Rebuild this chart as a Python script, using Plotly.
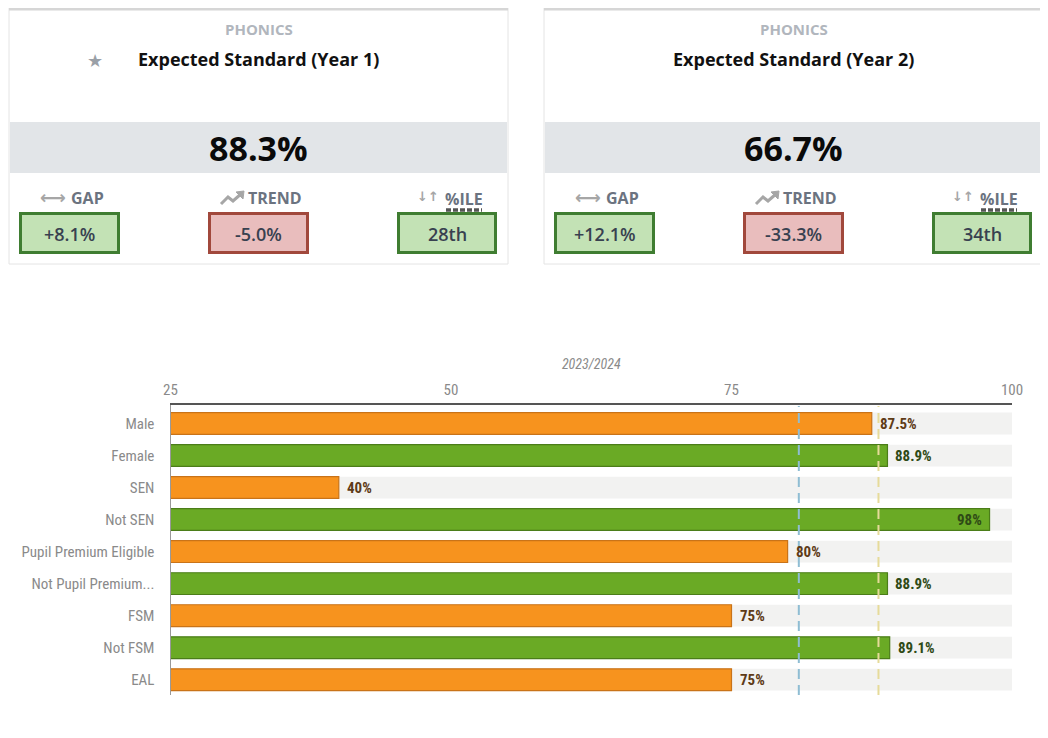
import plotly.graph_objects as go

# page window is 1048x738; body margin of 8px is taken into account
OFF = 8
W, H = 1048 - OFF, 738 - OFF

# ---------------- data ----------------
card_subjects = ["PHONICS", "PHONICS"]
card_titles = ["Expected Standard (Year 1)", "Expected Standard (Year 2)"]
card_values = ["88.3%", "66.7%"]
card_starred = [True, False]
gap_values = ["+8.1%", "+12.1%"]
trend_values = ["-5.0%", "-33.3%"]
pctile_values = ["28th", "34th"]
gap_status = ["good", "good"]
trend_status = ["bad", "bad"]
pctile_status = ["good", "good"]

categories = ["Male", "Female", "SEN", "Not SEN", "Pupil Premium Eligible",
              "Not Pupil Premium...", "FSM", "Not FSM", "EAL"]
values = [87.5, 88.9, 40, 98, 80, 88.9, 75, 89.1, 75]
above_school = [False, True, False, True, False, True, False, True, False]
national_line = 81.0
school_line = 88.1
axis_title = "2023/2024"
x_ticks = [25, 50, 75, 100]


def X(px):
    return (px - OFF) / W


def Y(py):
    return 1 - (py - OFF) / H


chart_font = "Liberation Sans Narrow, Roboto Condensed, DejaVu Sans Condensed, sans-serif"

fig = go.Figure()

# background bars
fig.add_trace(go.Bar(
    y=categories, x=[100] * len(categories), orientation="h",
    marker=dict(color="#f2f2f1", line=dict(width=0)),
    hoverinfo="skip", showlegend=False, width=0.68,
))

bar_colors = ["#6aaa25" if a else "#f7931e" for a in above_school]
bar_lines = ["#4b7d19" if a else "#c97318" for a in above_school]
text_colors = ["#2f4a16" if a else "#5e3b17" for a in above_school]

fig.add_trace(go.Bar(
    y=categories, x=values, orientation="h",
    marker=dict(color=bar_colors, line=dict(color=bar_lines, width=1.2)),
    showlegend=False, width=0.68,
))

fig.update_layout(
    template="none",
    width=W, height=H, autosize=False,
    margin=dict(l=0, r=0, t=0, b=0, pad=0, autoexpand=False),
    paper_bgcolor="white", plot_bgcolor="white",
    barmode="overlay",
    font=dict(family=chart_font, color="#8a8a8a", size=15),
    xaxis=dict(
        domain=[X(170.5), X(1012)], range=[25, 100], side="top", automargin=False,
        tickvals=x_ticks, showgrid=False, zeroline=False,
        showline=True, linecolor="#555555", linewidth=1.5,
        tickfont=dict(size=15, color="#8a8a8a"), ticks="", ticklabelstandoff=2,
        title=dict(text=f"<i>{axis_title}</i>", font=dict(size=14, color="#8a8a8a"), standoff=8),
    ),
    yaxis=dict(
        domain=[Y(695), Y(405)], range=[8.478, -0.578], automargin=False,
        showgrid=False, zeroline=False, showline=True,
        linecolor="#999999", linewidth=1.2,
        tickfont=dict(size=15, color="#8a8a8a"), ticks="", ticklabelstandoff=12,
    ),
)

shapes = []
annotations = []

# value labels
for cat, v, col in zip(categories, values, text_colors):
    inside = v > 95
    annotations.append(dict(
        x=v, y=cat, xref="x", yref="y", text=f"<b>{v:g}%</b>", showarrow=False,
        xanchor="right" if inside else "left", xshift=-6 if inside else 6,
        yanchor="middle", font=dict(size=15, color=col, family=chart_font),
    ))

# reference lines
for val, col in [(national_line, "#8fbdd3"), (school_line, "#e6db9a")]:
    shapes.append(dict(type="line", xref="x", yref="paper", x0=val, x1=val,
                       y0=Y(695), y1=Y(406), line=dict(color=col, width=2, dash="10px,6px"),
                       layer="above"))

ui_font = "Open Sans, Noto Sans, sans-serif"


def add_text(px, py, text, size, color, weight="normal", family=ui_font, xanchor="center"):
    annotations.append(dict(
        x=X(px), y=Y(py), xref="paper", yref="paper", text=text,
        showarrow=False, xanchor=xanchor, yanchor="middle",
        font=dict(size=size, color=color, family=family, weight=weight),
    ))


def rect(x0, y0, x1, y1, fill, line_color=None, lw=0):
    shapes.append(dict(type="rect", xref="paper", yref="paper",
                       x0=X(x0), x1=X(x1), y0=Y(y1), y1=Y(y0),
                       fillcolor=fill, line=dict(color=line_color or fill, width=lw),
                       layer="below"))


status_style = {"good": ("#c3e2b5", "#3f7d31"), "bad": ("#e9bdbd", "#a1483c")}
icon_col = "#a6a6a6"

for i in range(2):
    dx = 535 * i
    cx = 258.5 + dx
    # card
    rect(9 + dx, 8, 508 + dx, 264, "white", "#e4e4e4", 1)
    rect(9 + dx, 8, 508 + dx, 10.5, "#d6d6d6")
    rect(10 + dx, 122, 507 + dx, 173, "#e2e5e8")
    add_text(cx, 29, card_subjects[i], 15, "#b1b6bd", weight="bold")
    add_text(cx, 59, card_titles[i], 18, "#111111", weight="bold")
    if card_starred[i]:
        add_text(95 + dx, 61, "★", 18, "#9aa0a7", family="DejaVu Sans")
    add_text(cx, 148, card_values[i], 34, "#0a0a0a", weight="bold")

    # KPI headers
    add_text(53 + dx, 197, "<b>⟷</b>", 18, icon_col, family="DejaVu Sans")
    add_text(87 + dx, 198, "GAP", 16, "#6b7380", weight="bold")
    add_text(275 + dx, 198, "TREND", 16, "#6b7380", weight="bold")
    add_text(428 + dx, 196, "<b>↓↑</b>", 13, icon_col, family="DejaVu Sans")
    add_text(464 + dx, 199, "%ILE", 16, "#6b7380", weight="bold")
    # trend icon
    pts = [(221, 204), (228, 197), (233, 201), (241, 194)]
    path = "M " + " L ".join(f"{X(a + dx)},{Y(b)}" for a, b in pts)
    shapes.append(dict(type="path", xref="paper", yref="paper", path=path,
                       line=dict(color=icon_col, width=3)))
    head = f"M {X(236 + dx)},{Y(192)} L {X(244 + dx)},{Y(191)} L {X(243 + dx)},{Y(199)} Z"
    shapes.append(dict(type="path", xref="paper", yref="paper", path=head,
                       fillcolor=icon_col, line=dict(color=icon_col, width=1)))
    # dashed underline under %ILE
    shapes.append(dict(type="line", xref="paper", yref="paper",
                       x0=X(446 + dx), x1=X(482 + dx), y0=Y(210), y1=Y(210),
                       line=dict(color="#555555", width=3.5, dash="5px,2px")))

    boxes = [(19, 120, gap_values[i], gap_status[i]),
             (208, 309, trend_values[i], trend_status[i]),
             (397, 497, pctile_values[i], pctile_status[i])]
    for x0, x1, txt, st in boxes:
        fill, border = status_style[st]
        shapes.append(dict(type="rect", xref="paper", yref="paper",
                           x0=X(x0 + dx + 1.5), x1=X(x1 + dx - 1.5), y0=Y(252.5), y1=Y(213.5),
                           fillcolor=fill, line=dict(color=border, width=3)))
        add_text((x0 + x1) / 2 + dx, 234, txt, 18, "#384150", weight=600)

fig.update_layout(shapes=shapes, annotations=annotations)

fig.write_html("out.html")
